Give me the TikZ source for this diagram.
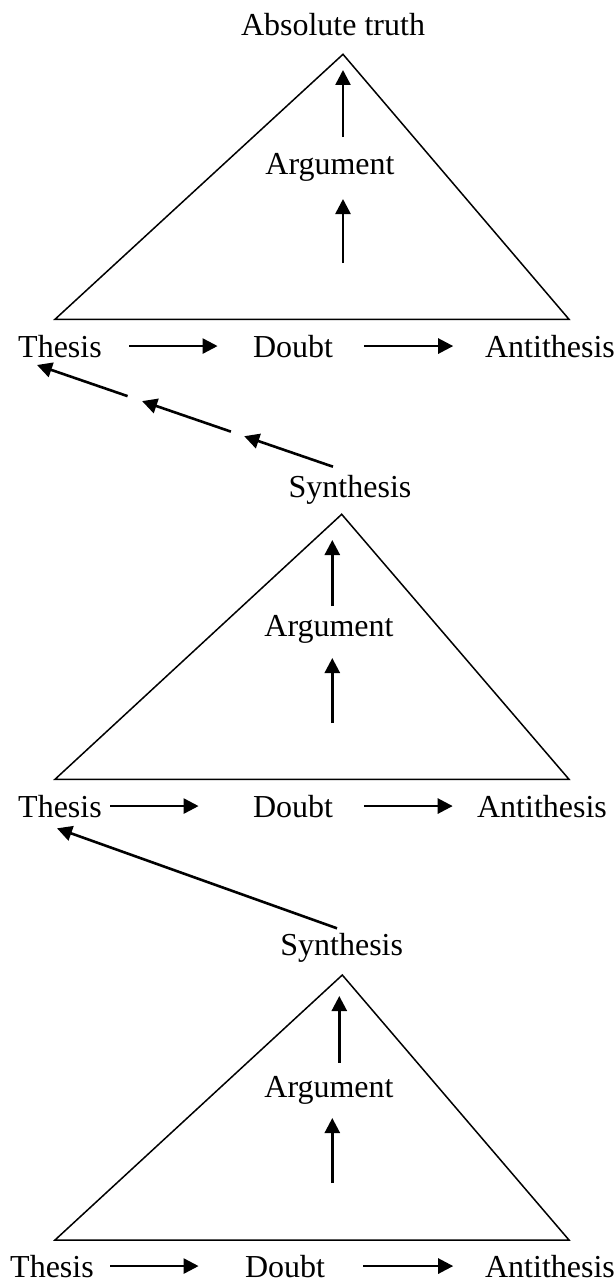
\documentclass[tikz,border=0pt]{standalone}
\usepackage{fontspec}
\setmainfont{Liberation Serif}
\usetikzlibrary{calc,arrows.meta}

\begin{document}
\begin{tikzpicture}[x=0.5pt, y=-0.5pt, font=\fontsize{16}{19}\selectfont,
	lbl/.style={inner sep=0pt, anchor=base},
	arr/.style={-{Triangle[length=7.5pt, width=7.5pt]}, line width=1.3pt},
	tri/.style={line width=0.75pt, line join=miter}]
 \useasboundingbox (0,0) rectangle (614,1284);

 % first level
 \node[lbl] (truth) at (333,35.5) {Absolute truth};
 \coordinate (apexA) at (343,54.3);
 \coordinate (leftA) at (55,319.3);
 \coordinate (rightA) at (569,319.3);
 \draw[tri] (apexA) -- (leftA) -- (rightA) -- cycle;
 \node[lbl] (argA) at (330,174) {Argument};
 \coordinate (upAs) at (343,137);
 \coordinate (upAe) at (343,70);
 \coordinate (loAs) at (343,263);
 \coordinate (loAe) at (343,199);
 \draw[arr] (upAs) -- (upAe);
 \draw[arr] (loAs) -- (loAe);

 \node[lbl] (thesA) at (60,357) {Thesis};
 \node[lbl] (doubtA) at (293,357) {Doubt};
 \node[lbl] (antiA) at (550,357) {Antithesis};
 \draw[arr, shorten <=13.5pt, shorten >=17.5pt] (thesA) -- (doubtA);
 \draw[arr, shorten <=15.25pt, shorten >=15.75pt] (doubtA) -- (antiA);

 % broken way back
 \coordinate (backAs) at (333,466.7);
 \coordinate (backAe) at (37,365);
 \foreach \a/\b in {0/0.30, 0.345/0.645, 0.694/1}
   \draw[arr] ($(backAs)!\a!(backAe)$) -- ($(backAs)!\b!(backAe)$);

 % second level
 \node[lbl] (synB) at (350,497.5) {Synthesis};
 \coordinate (apexB) at (341.7,514.3);
 \coordinate (leftB) at (55,779.3);
 \coordinate (rightB) at (569,779.3);
 \draw[tri] (apexB) -- (leftB) -- (rightB) -- cycle;
 \node[lbl] (argB) at (329,636) {Argument};
 \coordinate (upBs) at (332.3,606);
 \coordinate (upBe) at (332.3,540);
 \coordinate (loBs) at (332.3,723);
 \coordinate (loBe) at (332.3,658);
 \draw[arr] (upBs) -- (upBe);
 \draw[arr] (loBs) -- (loBe);

 \node[lbl] (thesB) at (60,817) {Thesis};
 \node[lbl] (doubtB) at (293,817) {Doubt};
 \node[lbl] (antiB) at (542,817) {Antithesis};
 \draw[arr, shorten <=4pt, shorten >=27pt] (thesB) -- (doubtB);
 \draw[arr, shorten <=15.25pt, shorten >=12pt] (doubtB) -- (antiB);

 \coordinate (backBs) at (337,928.3);
 \coordinate (backBe) at (57,828.3);
 \draw[arr] (backBs) -- (backBe);

 % third level
 \node[lbl] (synC) at (341.7,955.5) {Synthesis};
 \coordinate (apexC) at (342.3,975);
 \coordinate (leftC) at (55,1240);
 \coordinate (rightC) at (569,1240);
 \draw[tri] (apexC) -- (leftC) -- (rightC) -- cycle;
 \node[lbl] (argC) at (329,1097) {Argument};
 \coordinate (upCs) at (339.3,1062.7);
 \coordinate (upCe) at (339.3,996);
 \coordinate (loCs) at (332.3,1183);
 \coordinate (loCe) at (332.3,1118);
 \draw[arr] (upCs) -- (upCe);
 \draw[arr] (loCs) -- (loCe);

 \node[lbl] (thesC) at (52,1277) {Thesis};
 \node[lbl] (doubtC) at (285,1277) {Doubt};
 \node[lbl] (antiC) at (550,1277) {Antithesis};
 \draw[arr, shorten <=8pt, shorten >=23pt] (thesC) -- (doubtC);
 \draw[arr, shorten <=19pt, shorten >=15.75pt] (doubtC) -- (antiC);

\end{tikzpicture}
\end{document}
